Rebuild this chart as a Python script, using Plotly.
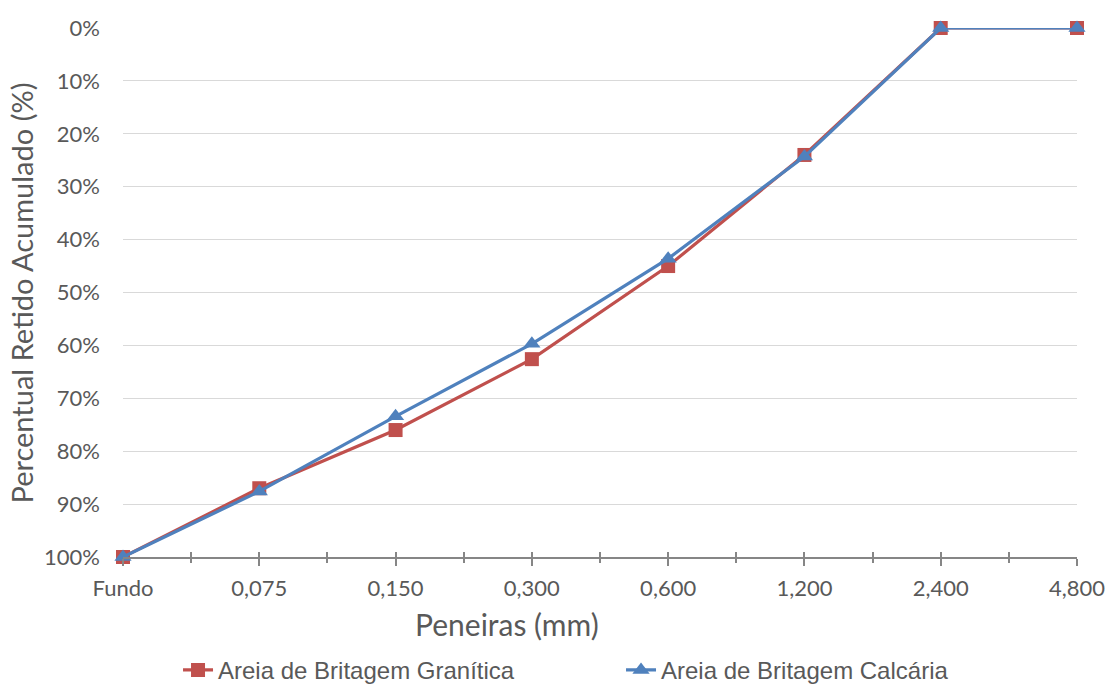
import plotly.graph_objects as go

categories = ["Fundo", "0,075", "0,150", "0,300", "0,600", "1,200", "2,400", "4,800"]
granitica = [100, 87.0, 76.0, 62.6, 45.0, 24.0, 0, 0]
calcaria = [100, 87.6, 73.4, 59.7, 43.6, 24.3, 0, 0]
y_ticks = [0, 10, 20, 30, 40, 50, 60, 70, 80, 90, 100]

RED = "#C0504D"
BLUE = "#4F81BD"
TXT = "#595959"
AXIS = "#868686"
GRID = "#D9D9D9"

fig = go.Figure()
fig.add_trace(go.Scatter(
    x=categories, y=granitica, mode="lines+markers",
    name="Areia de Britagem Granítica",
    line=dict(color=RED, width=3.2),
    marker=dict(symbol="square", size=14, color=RED),
    cliponaxis=False,
))
fig.add_trace(go.Scatter(
    x=categories, y=calcaria, mode="lines+markers",
    name="Areia de Britagem Calcária",
    line=dict(color=BLUE, width=3.2),
    marker=dict(symbol="triangle-up", size=15, color=BLUE),
    cliponaxis=False,
))
# empty helper traces so the tick-only overlay axes get drawn
fig.add_trace(go.Scatter(x=[], y=[], xaxis="x2", showlegend=False, hoverinfo="skip"))
fig.add_trace(go.Scatter(x=[], y=[], xaxis="x3", showlegend=False, hoverinfo="skip"))

n = len(categories)
mid_ticks = [i + 0.5 for i in range(n - 1)]
all_ticks = [i * 0.5 for i in range(2 * (n - 1) + 1)]

fig.update_layout(
    width=1107, height=684,
    paper_bgcolor="white", plot_bgcolor="white",
    margin=dict(l=123, r=30, t=28, b=127),
    font=dict(family="Lato, Carlito, sans-serif", color=TXT, size=22),
    showlegend=True,
    legend=dict(
        orientation="h", xref="container", yref="container",
        x=0.561, xanchor="center", y=0.02, yanchor="middle",
        font=dict(family="Liberation Sans, Arial, sans-serif", size=24, color=TXT),
        entrywidth=398, entrywidthmode="pixels",
    ),
    xaxis=dict(
        type="category", categoryorder="array", categoryarray=categories,
        range=[0, n - 1], automargin=False,
        showline=True, linecolor=AXIS, linewidth=1.5,
        ticks="outside", ticklen=7, tickcolor=AXIS, tickwidth=1.5,
        showgrid=False, zeroline=False,
        tickfont=dict(size=22, color=TXT),
        ticklabelstandoff=4,
    ),
    xaxis2=dict(
        overlaying="x", anchor="y", side="bottom", type="linear",
        range=[0, n - 1], tickmode="array", tickvals=mid_ticks, automargin=False,
        ticks="outside", ticklen=5, tickcolor=AXIS, tickwidth=1.5,
        showticklabels=False, showgrid=False, zeroline=False, showline=False,
    ),
    xaxis3=dict(
        overlaying="x", anchor="y", side="bottom", type="linear",
        range=[0, n - 1], tickmode="array", tickvals=all_ticks, automargin=False,
        ticks="inside", ticklen=5, tickcolor=AXIS, tickwidth=1.5,
        showticklabels=False, showgrid=False, zeroline=False, showline=False,
    ),
    yaxis=dict(
        range=[100, 0], tickmode="array", tickvals=y_ticks, automargin=False,
        ticktext=[f"{v}%" for v in y_ticks],
        showgrid=True, gridcolor=GRID, gridwidth=1.3,
        showline=False, zeroline=False, ticks="",
        tickfont=dict(size=22, color=TXT),
        ticklabelstandoff=22,
    ),
    annotations=[
        dict(text="Peneiras (mm)", xref="paper", yref="paper",
             x=0.4025, y=-0.126, xanchor="center", yanchor="middle",
             showarrow=False, font=dict(size=30, color=TXT)),
        dict(text="Percentual Retido Acumulado (%)", xref="paper", yref="paper",
             x=-0.1059, y=0.5, xanchor="center", yanchor="middle", textangle=-90,
             showarrow=False, font=dict(size=29, color=TXT)),
    ],
)

fig.write_html("out.html")
